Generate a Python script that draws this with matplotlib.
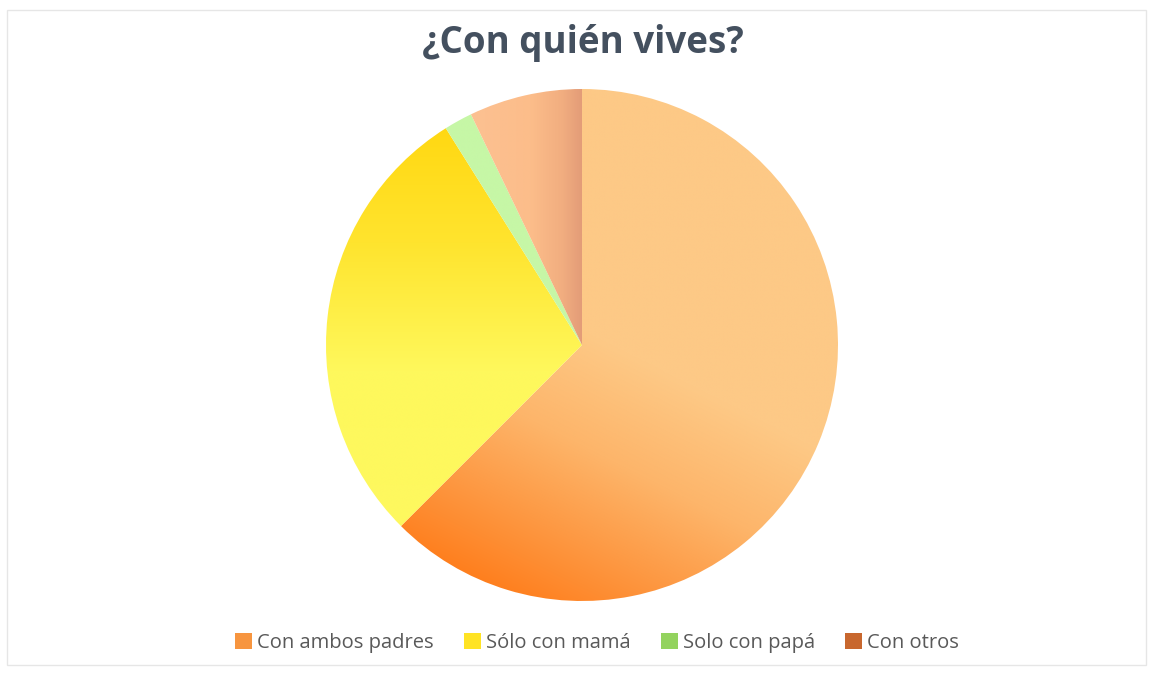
import numpy as np
import matplotlib.pyplot as plt
from matplotlib.patches import Patch, Rectangle
from matplotlib.colors import to_rgb

# datos de la encuesta
etiquetas = ['Con ambos padres', 'Sólo con mamá', 'Solo con papá', 'Con otros']
valores = [35, 16, 1, 4]
titulo = '¿Con quién vives?'

colores_leyenda = ['#F7953F', '#FFE324', '#93D35E', '#C8672E']

fig = plt.figure(figsize=(11.49, 6.73), dpi=100)
fig.patches.append(Rectangle((7/1149, 8/673), 1139/1149, 655/673, transform=fig.transFigure,
                             fill=False, edgecolor='#E6E6E6', linewidth=1))

ax = fig.add_axes([(582-256)/1149, (673-345-256)/673, 512/1149, 512/673])
wedges, _ = ax.pie(valores, startangle=90, counterclock=False, radius=1,
                   colors=['none']*4, wedgeprops=dict(linewidth=0))
ax.set_xlim(-1, 1)
ax.set_ylim(-1, 1)
ax.set_aspect('equal')
ax.axis('off')

# rejilla para los degradados
n = 600
xs = np.linspace(-1, 1, n)
X, Y = np.meshgrid(xs, xs[::-1])

def rampa(t, paradas):
    # interpolacion por tramos entre colores
    pos = [p for p, c in paradas]
    cols = np.array([to_rgb(c) for p, c in paradas])
    t = np.clip(t, pos[0], pos[-1])
    out = np.zeros(t.shape + (3,))
    for k in range(3):
        out[..., k] = np.interp(t, pos, cols[:, k])
    return out

# con ambos padres: claro arriba-derecha, naranja fuerte abajo-izquierda
d = np.array([-0.45, -0.89])
d = d / np.linalg.norm(d)
s = X*d[0] + Y*d[1]
img0 = rampa(s, [(-0.05, '#FDC986'), (0.35, '#FDB56A'), (0.7, '#FD9842'), (1.0, '#FF7F1E')])

# solo con mama: dorado arriba, amarillo claro abajo
img1 = rampa(-Y, [(-0.85, '#FFD812'), (-0.4, '#FFE42E'), (0.1, '#FEF85C'), (1.0, '#FEF860')])

# solo con papa: verde claro
img2 = rampa(Y, [(-1, '#C6F7A6'), (1, '#C6F7A6')])

# con otros: melocoton con borde derecho mas oscuro
img3 = rampa(X, [(-0.5, '#FCC294'), (-0.2, '#FCBD8A'), (-0.08, '#F2AE80'), (0.0, '#E39C78')])

for w, img in zip(wedges, [img0, img1, img2, img3]):
    im = ax.imshow(img, extent=[-1, 1, -1, 1], interpolation='bilinear', zorder=1)
    im.set_clip_path(w)

ax.set_xlim(-1, 1)
ax.set_ylim(-1, 1)

fig.text(583/1149, 1 - 43/673, titulo, ha='center', va='center', fontsize=26.5,
         fontweight='bold', color='#44505F', family=['Open Sans', 'DejaVu Sans'])

handles = [Patch(facecolor=c, edgecolor='none') for c in colores_leyenda]
leg = fig.legend(handles, etiquetas, loc='center', bbox_to_anchor=(597/1149, 1 - 643/673),
                 ncol=4, frameon=False, handlelength=0.85, handleheight=0.85,
                 handletextpad=0.25, columnspacing=1.5,
                 prop={'family': ['Open Sans', 'DejaVu Sans'], 'size': 14.5})
for t in leg.get_texts():
    t.set_color('#595959')

fig.savefig('out.png', dpi=100, facecolor='white')
